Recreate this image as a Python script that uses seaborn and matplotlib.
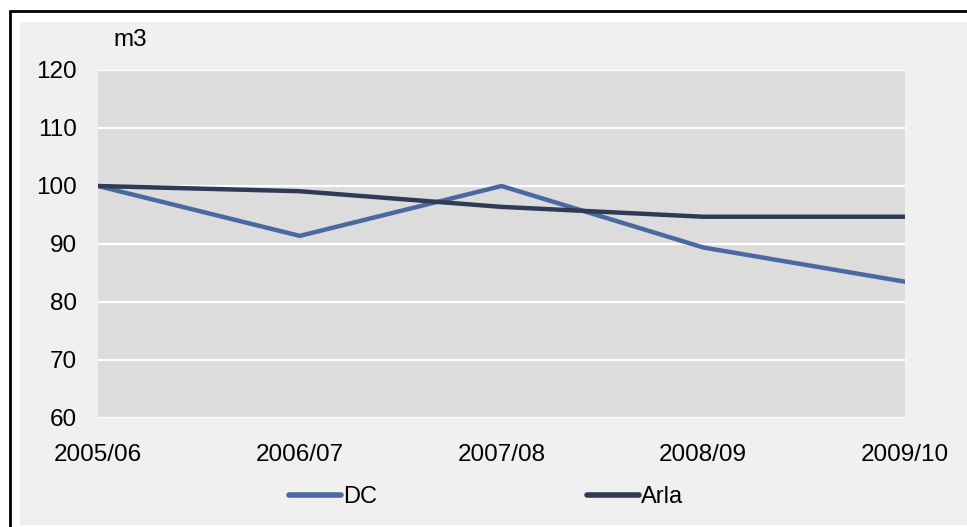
import pandas as pd
import numpy as np
import matplotlib
matplotlib.use('Agg')
import matplotlib.pyplot as plt
import seaborn as sns
from matplotlib.lines import Line2D

years = ['2005/06', '2006/07', '2007/08', '2008/09', '2009/10']
dc = [100, 91.4, 100, 89.4, 83.5]
arla = [100, 99.1, 96.4, 94.7, 94.7]
series_names = ['DC', 'Arla']
series_colors = ['#4a69a0', '#2f3b55']

sns.set_style('white')
plt.rcParams['font.family'] = ['Liberation Sans', 'DejaVu Sans']
plt.rcParams['text.color'] = 'black'
plt.rcParams['xtick.color'] = 'black'
plt.rcParams['ytick.color'] = 'black'

df = pd.DataFrame({'year': years * 2,
                   'x': list(range(len(years))) * 2,
                   'value': dc + arla,
                   'series': ['DC'] * len(years) + ['Arla'] * len(years)})

fig = plt.figure(figsize=(9.67, 5.27), dpi=100)
fig.patch.set_facecolor('white')

# light grey panel and black frame around the chart
fig.patches.append(plt.Rectangle((20 / 967, 2 / 527), 947 / 967, 503 / 527,
                                 transform=fig.transFigure, facecolor='#f0f0f0',
                                 edgecolor='none', zorder=-10))
fig.lines.append(Line2D([10 / 967, 10 / 967], [0, 1 - 11 / 527], transform=fig.transFigure,
                        color='black', lw=2, zorder=-5))
fig.lines.append(Line2D([10 / 967, 1], [1 - 11 / 527, 1 - 11 / 527], transform=fig.transFigure,
                        color='black', lw=2, zorder=-5))

ax = fig.add_axes([98 / 967, 1 - 418 / 527, 807 / 967, 348 / 527])
ax.set_zorder(1)
ax.set_facecolor('#dcdcdc')

sns.lineplot(data=df, x='x', y='value', hue='series', hue_order=series_names,
             palette=series_colors, linewidth=3.2, legend=False, ax=ax)

ax.set_xlim(0, len(years) - 1)
ax.set_ylim(60, 120)
ax.set_yticks(np.arange(60, 121, 10))
ax.set_xticks(range(len(years)))
ax.set_xticklabels(years)
ax.set_xlabel('')
ax.set_ylabel('')
ax.grid(axis='y', color='white', lw=1.6)
ax.set_axisbelow(True)
for s in ax.spines.values():
    s.set_visible(False)
ax.tick_params(axis='y', length=0, pad=15, labelsize=17.5)
ax.tick_params(axis='x', length=0, pad=19, labelsize=17.5)

fig.text(113 / 967, 1 - 40 / 527, 'm3', fontsize=17.5, va='center', ha='left')

handles = [Line2D([], [], color=c, lw=4) for c in series_colors]
fig.legend(handles, series_names, loc='center', bbox_to_anchor=(486 / 967, 1 - 497 / 527),
           ncol=2, frameon=False, fontsize=17, handlelength=2.2, handletextpad=0.1,
           columnspacing=8.9)

plt.savefig('out.png', dpi=100)
